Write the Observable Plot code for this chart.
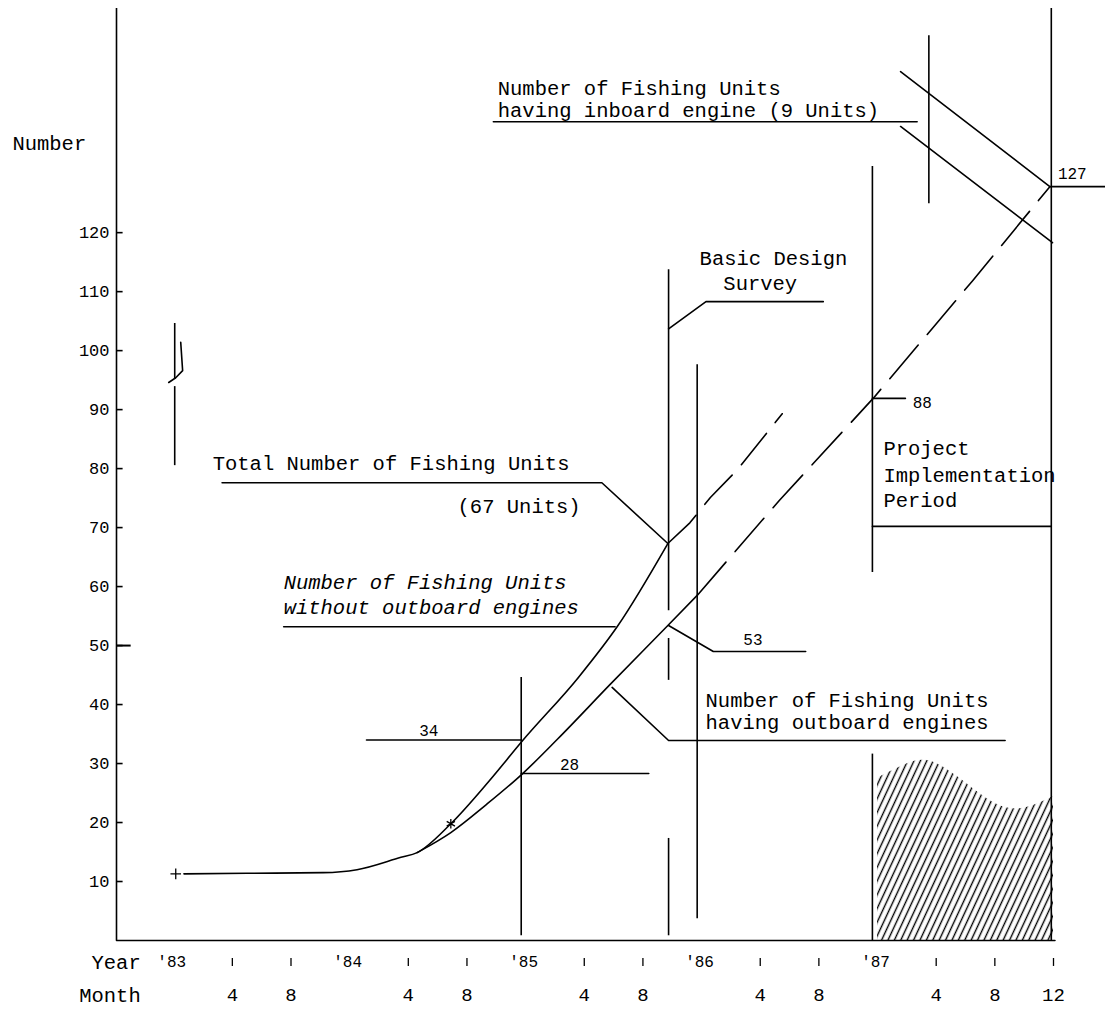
<!DOCTYPE html>
<html>
<head>
<meta charset="utf-8">
<script src="https://cdn.jsdelivr.net/npm/d3@7"></script>
<script src="https://cdn.jsdelivr.net/npm/@observablehq/plot@0.6"></script>
<style>
  html, body { margin: 0; padding: 0; background: #fff; }
  #chart svg { display: block; }
</style>
</head>
<body>
<div id="chart"></div>
<script>
// x = months since January 1983, y = number of fishing units
const yTicks = [10, 20, 30, 40, 50, 60, 70, 80, 90, 100, 110, 120];
const yTickLong = [50];
const yearTicks = [0, 12, 24, 36, 48];
const yearLabels = ["'83", "'84", "'85", "'86", "'87"];
const monthTicks = [4, 8, 16, 20, 28, 32, 40, 44, 52, 56, 60];
const monthLabels = ["4", "8", "4", "8", "4", "8", "4", "8", "4", "8", "12"];

// Total number of fishing units (solid = actual, dashed = trend)
const totalSolid = [[0.7, 11.3], [5, 11.4], [10.2, 11.5], [12.5, 12.0], [15.5, 14.1], [16.6, 14.9], [18.9, 19.8], [21.5, 27.0], [23.8, 33.9], [27.6, 44.6], [30.3, 53.4], [33.7, 67.3]];
const totalDashed = [[33.7, 67.3], [35.2, 70.8], [36.6, 75.1], [38.4, 79.7], [41.5, 89.3]];
// Number of fishing units having outboard engines
const outboardSolid = [[16.6, 14.9], [18.9, 18.3], [21.3, 23.0], [23.8, 28.3], [26.2, 34.2], [29.8, 43.5], [33.7, 53.4], [35.7, 58.5]];
const outboardDashed = [[35.7, 58.5], [41.3, 74.6], [47.7, 91.9], [54.5, 111.9], [59.75, 127.8]];
// Hatched area during project implementation period
const hatchTop = [[48.0, 27.5], [49.6, 29.5], [51.4, 30.5], [53.6, 27.5], [55.9, 23.4], [57.9, 22.4], [60, 24.4]];
const startMark = [[0.14, 11.3]];
const starMark = [[18.9, 19.8]];

// Vertical marker lines (month, from value, to value)
const verticals = [
  {m: -3.9, v1: 0, v2: 158},
  {m: 23.7, v1: 0.8, v2: 44.6},
  {m: 33.75, v1: 55.9, v2: 113.7},
  {m: 33.75, v1: 44.1, v2: 51.2},
  {m: 33.75, v1: 0.8, v2: 17.3},
  {m: 35.7, v1: 3.7, v2: 97.6},
  {m: 47.65, v1: 62.4, v2: 131.2},
  {m: 47.65, v1: 0, v2: 31.6},
  {m: 51.5, v1: 124.9, v2: 153.4},
  {m: 59.85, v1: 0, v2: 158},
  {m: 0.07, v1: 95.1, v2: 104.6},
  {m: 0.07, v1: 80.5, v2: 93.9}
];

// Leader / pointer polylines
const leader34 = [[13.15, 34], [23.7, 34]];
const leader28 = [[23.7, 28.3], [32.4, 28.3]];
const leader53 = [[33.75, 53.4], [36.8, 49.0], [43.1, 49.0]];
const leaderOutboard = [[29.9, 42.9], [33.75, 33.9], [56.7, 33.9]];
const leaderWithout = [[7.5, 53.2], [30.1, 53.2]];
const leaderTotal = [[3.3, 77.6], [29.2, 77.6], [33.7, 67.3]];
const leaderSurvey = [[33.75, 103.7], [36.3, 108.3], [44.3, 108.3]];
const leaderPeriod = [[47.65, 70.2], [59.85, 70.2]];
const leader88 = [[47.65, 91.9], [49.9, 91.9]];
const leader127 = [[59.8, 127.8], [63.55, 127.8]];
const leaderInboard = [[21.8, 138.8], [50.7, 138.8]];
const diagUpper = [[49.57, 147.3], [59.75, 127.8]];
const diagLower = [[49.57, 138.0], [59.93, 118.3]];
const squiggle = [[0.48, 101.4], [0.61, 96.6], [0.14, 95.4], [-0.34, 94.6]];
const xAxisLine = [[-3.9, 0], [60.1, 0]];

// Text annotations
const labelsLeft = [
  {m: -11.0, v: 135.1, t: "Number"},
  {m: 2.66, v: 80.8, t: "Total Number of Fishing Units"},
  {m: 36.27, v: 40.7, t: "Number of Fishing Units"},
  {m: 36.27, v: 36.9, t: "having outboard engines"},
  {m: 48.4, v: 83.4, t: "Project"},
  {m: 48.4, v: 78.8, t: "Implementation"},
  {m: 48.4, v: 74.6, t: "Period"},
  {m: 22.1, v: 144.4, t: "Number of Fishing Units"},
  {m: 22.1, v: 140.7, t: "having inboard engine (9 Units)"}
];
const labelsItalic = [
  {m: 7.5, v: 60.7, t: "Number of Fishing Units"},
  {m: 7.5, v: 56.4, t: "without outboard engines"}
];
const labelsMiddle = [
  {m: 40.9, v: 115.6, t: "Basic Design"},
  {m: 40.0, v: 111.4, t: "Survey"}
];
const labelsEnd = [
  {m: 27.75, v: 73.6, t: "(67 Units)"},
  {m: -2.25, v: -3.7, t: "Year"},
  {m: -2.25, v: -9.3, t: "Month"}
];
const valueLabels = [
  {m: 17.4, v: 35.6, t: "34", a: "middle"},
  {m: 27.0, v: 29.7, t: "28", a: "middle"},
  {m: 39.5, v: 51.0, t: "53", a: "middle"},
  {m: 50.4, v: 91.2, t: "88", a: "start"},
  {m: 60.3, v: 130.0, t: "127", a: "start"}
];

const FONT = "'Liberation Mono', 'DejaVu Sans Mono', monospace";
const SW = 1.6;

const polylines = [leader34, leader28, leader53, leaderOutboard, leaderWithout, leaderTotal,
  leaderSurvey, leaderPeriod, leader88, leader127, leaderInboard, diagUpper, diagLower, squiggle, xAxisLine];
const leaderRows = polylines.flatMap((pts, i) => pts.map(([m, v]) => ({m, v, id: i})));
const toRows = (pts) => pts.map(([m, v]) => ({m, v}));

const hatchDefs = () => {
  const ns = "http://www.w3.org/2000/svg";
  const d = document.createElementNS(ns, "defs");
  d.innerHTML = '<pattern id="hatch" width="5.8" height="12" patternUnits="userSpaceOnUse" patternTransform="rotate(25)">' +
    '<line x1="1.5" y1="0" x2="1.5" y2="12" stroke="black" stroke-width="1.4"/></pattern>';
  return d;
};

const chart = Plot.plot({
  width: 1105,
  height: 1013,
  marginTop: 8,
  marginBottom: 73,
  marginLeft: 116,
  marginRight: 52,
  style: {fontFamily: FONT, fontSize: "16px", background: "white", overflow: "visible", color: "black"},
  x: {domain: [-3.9, 60], axis: null},
  y: {domain: [0, 158], axis: null},
  marks: [
    hatchDefs,
    Plot.areaY(toRows(hatchTop), {x: "m", y: "v", fill: "url(#hatch)", curve: "natural"}),
    // axes
    Plot.ruleY(yTicks, {y: d => d, x1: -3.9, x2: -3.45, stroke: "black", strokeWidth: SW}),
    Plot.ruleY(yTickLong, {y: d => d, x1: -3.9, x2: -2.9, stroke: "black", strokeWidth: 2}),
    Plot.text(yTicks, {x: -3.9, y: d => d, text: d => String(d), textAnchor: "end", dx: -7, fontSize: 17, fontFamily: FONT}),
    Plot.text(yearTicks, {x: d => d, y: -3.7, text: (d, i) => yearLabels[i], dx: -2, fontSize: 16, fontFamily: FONT}),
    Plot.ruleX(monthTicks, {x: d => d, y1: -3.05, y2: -4.4, stroke: "black", strokeWidth: 1.3}),
    Plot.text(monthTicks, {x: d => d, y: -9.3, text: (d, i) => monthLabels[i], fontSize: 19, fontFamily: FONT}),
    // vertical markers and leaders
    Plot.ruleX(verticals, {x: "m", y1: "v1", y2: "v2", stroke: "black", strokeWidth: SW}),
    Plot.line(leaderRows, {x: "m", y: "v", z: "id", stroke: "black", strokeWidth: SW}),
    // series
    Plot.line(toRows(totalSolid), {x: "m", y: "v", stroke: "black", strokeWidth: SW, curve: "monotone-x"}),
    Plot.line(toRows(totalDashed), {x: "m", y: "v", stroke: "black", strokeWidth: SW, strokeDasharray: "40,14"}),
    Plot.line(toRows(outboardSolid), {x: "m", y: "v", stroke: "black", strokeWidth: SW, curve: "monotone-x"}),
    Plot.line(toRows(outboardDashed), {x: "m", y: "v", stroke: "black", strokeWidth: SW, strokeDasharray: "44,14"}),
    Plot.dot(toRows(startMark), {x: "m", y: "v", symbol: "plus", r: 3.5, stroke: "black", strokeWidth: 1.3}),
    Plot.dot(toRows(starMark), {x: "m", y: "v", symbol: "asterisk", r: 4.5, stroke: "black", strokeWidth: 1.3}),
    // text
    Plot.text(labelsLeft, {x: "m", y: "v", text: "t", textAnchor: "start", fontSize: 20.5, fontFamily: FONT}),
    Plot.text(labelsItalic, {x: "m", y: "v", text: "t", textAnchor: "start", fontSize: 20.5, fontFamily: FONT, fontStyle: "italic"}),
    Plot.text(labelsMiddle, {x: "m", y: "v", text: "t", textAnchor: "middle", fontSize: 20.5, fontFamily: FONT}),
    Plot.text(labelsEnd, {x: "m", y: "v", text: "t", textAnchor: "end", fontSize: 20.5, fontFamily: FONT}),
    Plot.text(valueLabels.filter(d => d.a === "middle"), {x: "m", y: "v", text: "t", textAnchor: "middle", fontSize: 16, fontFamily: FONT}),
    Plot.text(valueLabels.filter(d => d.a === "start"), {x: "m", y: "v", text: "t", textAnchor: "start", fontSize: 16, fontFamily: FONT})
  ]
});
document.getElementById("chart").appendChild(chart);
</script>
</body>
</html>
